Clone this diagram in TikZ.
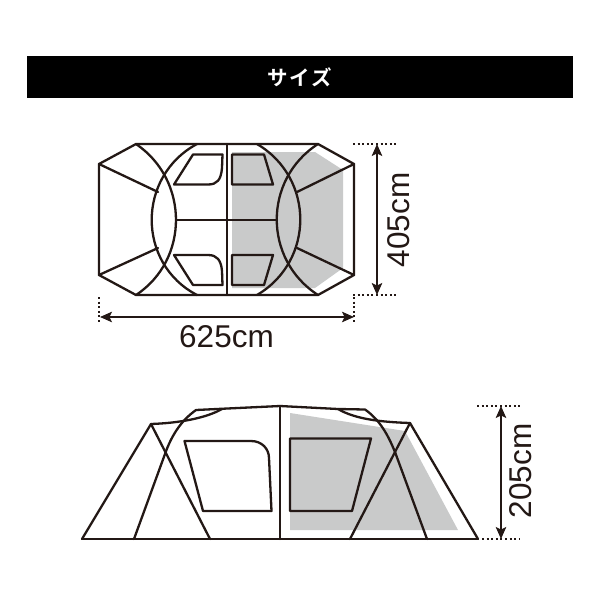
\documentclass[tikz,border=0pt]{standalone}
\usepackage{fontspec}
\setmainfont{Liberation Sans}
\newfontfamily\cjkfont{Noto Sans CJK JP}[BoldFont={Noto Sans CJK JP Bold}]
\usetikzlibrary{arrows.meta}
\definecolor{ink}{HTML}{231815}
\definecolor{greyfill}{HTML}{C9CACA}
\tikzset{
  tent/.style={draw=ink,line width=2.3pt,line join=round,line cap=round},
  dots/.style={draw=ink,line width=2pt,dash pattern=on 2pt off 2.6pt},
  dimarrow/.style={draw=ink,line width=1.6pt,{Stealth[length=12pt,width=10.5pt,inset=2.5pt]}-{Stealth[length=12pt,width=10.5pt,inset=2.5pt]},shorten <=0pt,shorten >=0pt},
  dimtext/.style={text=ink,font=\fontsize{31.5}{32}\selectfont,inner sep=0pt},
}
\begin{document}
\begin{tikzpicture}[x=1pt,y=-1pt]
\useasboundingbox (0,0) rectangle (600,600);
% title
\fill[black] (27,56) rectangle (573,98);
\node[text=white,font=\cjkfont\bfseries\fontsize{20.5}{21}\selectfont,inner sep=0pt] (title) at (299.5,77) {サ\kern1.5pt イ\kern1.5pt ズ};
% top view
\fill[greyfill] (232,152) -- (315,152) -- (343,170) -- (343,268) -- (315,288) -- (232,288) -- cycle;
\draw[tent] (99,164) -- (136,144) -- (318,144) -- (354,164) -- (354,275) -- (318,295) -- (136,295) -- (99,275) -- cycle;
\draw[tent] (227,144) -- (227,295);
\draw[tent] (136,144) .. controls (189.3,180.2) and (189.3,259.8) .. (136,295);
\draw[tent] (197,144) .. controls (136.6,176.4) and (136.6,263.6) .. (197,295);
\draw[tent] (257,144) .. controls (314.7,178) and (314.7,261) .. (257,295);
\draw[tent] (318,144) .. controls (263,179.5) and (263,259.5) .. (318,295);
\draw[tent] (176,220) -- (277,220);
\draw[tent] (99,164) -- (158,192);
\draw[tent] (99,275) -- (158,248);
\draw[tent] (354,164) -- (297,192);
\draw[tent] (354,275) -- (297,248);
\draw[tent] (174,184.5) -- (193,154.5) -- (222.5,154.5) -- (222,168) .. controls (221,180) and (217,184.5) .. (208,184.5) -- cycle;
\draw[tent] (174,255) -- (193,285) -- (222.5,285) -- (222,271) .. controls (221,260) and (217,255) .. (208,255) -- cycle;
\draw[tent] (232,154.5) -- (264,154.5) -- (273,184.5) -- (232,184.5) -- cycle;
\draw[tent] (232,255) -- (273,255) -- (264,285) -- (232,285) -- cycle;
% top dims
\coordinate (a1) at (353,144); \coordinate (a2) at (396,144);
\coordinate (b1) at (353,295); \coordinate (b2) at (396,295);
\coordinate (c1) at (354,297); \coordinate (c2) at (354,322);
\coordinate (d1) at (99,297); \coordinate (d2) at (99,322);
\draw[dots] (a1) -- (a2);
\draw[dots] (b1) -- (b2);
\draw[dots] (c1) -- (c2);
\draw[dots] (d1) -- (d2);
\coordinate (w1) at (100,317); \coordinate (w2) at (354,317);
\coordinate (h1) at (377,144); \coordinate (h2) at (377,295);
\draw[dimarrow] (w1) -- (w2);
\draw[dimarrow] (h1) -- (h2);
\node[dimtext] (t625) at (226.5,337) {625cm};
\node[dimtext,rotate=90] (t405) at (399,220) {405cm};
% side view
\fill[greyfill] (290,413) -- (405,431) -- (458,530) -- (290,530) -- cycle;
\draw[tent] (82,539) -- (478,539);
\draw[tent] (82,539) -- (151,424) -- (210,539);
\draw[tent] (478,539) -- (410,423) -- (350,539);
\draw[tent] (134,539) -- (165,454) .. controls (172,434) and (182,420) .. (196,410) -- (280,406) -- (338,409) -- (365,409.5) .. controls (380,420) and (388,435) .. (395,452) -- (427,539);
\draw[tent] (151,424) .. controls (180,423) and (206,418) .. (222,409);
\draw[tent] (338,409) .. controls (355,419) and (380,422) .. (410,423);
\draw[tent] (280,406) -- (280,539);
\draw[tent] (184.5,441) -- (251,441) .. controls (262,441) and (269,449) .. (269,458) -- (271.5,511) -- (203,511) -- cycle;
\draw[tent] (290,438.5) -- (371,438.5) -- (352,511) -- (290,511) -- cycle;
% side dims
\coordinate (e1) at (477,406); \coordinate (e2) at (520,406);
\coordinate (f1) at (482,539); \coordinate (f2) at (520,539);
\draw[dots] (e1) -- (e2);
\draw[dots] (f1) -- (f2);
\coordinate (v1) at (501,406); \coordinate (v2) at (501,539);
\draw[dimarrow] (v1) -- (v2);
\node[dimtext,rotate=90] (t205) at (521,471) {205cm};
\end{tikzpicture}
\end{document}
